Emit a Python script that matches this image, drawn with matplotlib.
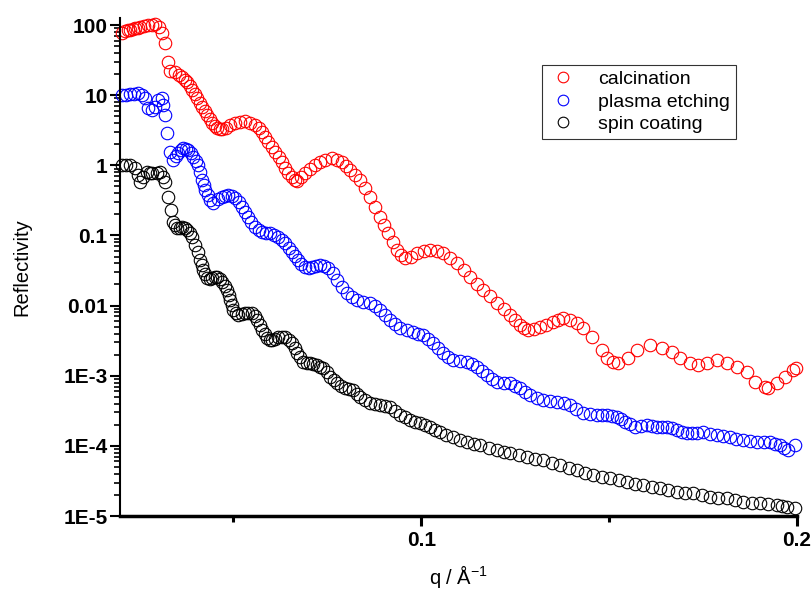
import matplotlib
matplotlib.use('Agg')
import matplotlib.pyplot as plt
import numpy as np
from matplotlib.ticker import FixedLocator, FixedFormatter, LogLocator, MultipleLocator

plt.rcParams['font.family'] = ['Liberation Sans', 'DejaVu Sans']
plt.rcParams['mathtext.default'] = 'regular'

# calcination (red)
q_calc = [0.0204, 0.0212, 0.0218, 0.0225, 0.0232, 0.0238, 0.0245, 0.0252, 0.0262, 0.0273,
          0.0282, 0.0292, 0.0302, 0.0310, 0.0318, 0.0326, 0.0332, 0.0345, 0.0354, 0.0364,
          0.0370, 0.0377, 0.0383, 0.0390, 0.0397, 0.0403, 0.0410, 0.0417, 0.0423, 0.0430,
          0.0437, 0.0443, 0.0450, 0.0457, 0.0463, 0.0470, 0.0481, 0.0491, 0.0504, 0.0518,
          0.0531, 0.0544, 0.0558, 0.0567, 0.0576, 0.0584, 0.0592, 0.0602, 0.0611, 0.0620,
          0.0630, 0.0638, 0.0646, 0.0655, 0.0664, 0.0670, 0.0680, 0.0691, 0.0704, 0.0717,
          0.0731, 0.0744, 0.0763, 0.0776, 0.0789, 0.0800, 0.0810, 0.0824, 0.0837, 0.0850,
          0.0864, 0.0877, 0.0890, 0.0901, 0.0912, 0.0924, 0.0936, 0.0946, 0.0957, 0.0973,
          0.0989, 0.1006, 0.1023, 0.1041, 0.1058, 0.1077, 0.1095, 0.1113, 0.1130, 0.1147,
          0.1164, 0.1183, 0.1202, 0.1219, 0.1236, 0.1250, 0.1263, 0.1274, 0.1284, 0.1300,
          0.1316, 0.1333, 0.1351, 0.1364, 0.1377, 0.1396, 0.1415, 0.1431, 0.1455, 0.1481,
          0.1494, 0.1510, 0.1524, 0.1550, 0.1574, 0.1609, 0.1641, 0.1667, 0.1689, 0.1715,
          0.1737, 0.1760, 0.1787, 0.1814, 0.1840, 0.1867, 0.1888, 0.1915, 0.1923, 0.1947,
          0.1968, 0.1990, 0.1997]
r_calc = [77, 82, 84.9, 86, 87.7, 91, 92.1, 94, 96.8, 100,
          101.6, 103, 94, 77, 55, 30, 22, 21.4, 19.7, 18.2,
          16.7, 15.4, 13.5, 11.8, 10.4, 9.1, 7.85, 6.8, 5.94, 5.2,
          4.57, 4.0, 3.63, 3.4, 3.29, 3.3, 3.46, 3.75, 4.01, 4.14,
          4.28, 4.07, 3.75, 3.40, 2.98, 2.53, 2.15, 1.82, 1.55, 1.31,
          1.11, 0.929, 0.776, 0.681, 0.617, 0.597, 0.681, 0.776, 0.885, 1.01,
          1.11, 1.19, 1.27, 1.21, 1.11, 0.977, 0.857, 0.727, 0.617, 0.474,
          0.353, 0.254, 0.183, 0.141, 0.108, 0.0805, 0.0619, 0.0526, 0.0476, 0.0501,
          0.0562, 0.0600, 0.0619, 0.0600, 0.0562, 0.0484, 0.0404, 0.0321, 0.0255, 0.0206,
          0.0167, 0.0135, 0.0109, 0.00893, 0.00733, 0.00622, 0.00528, 0.00479, 0.00449, 0.00463,
          0.00494, 0.00537, 0.00583, 0.00622, 0.00665, 0.00622, 0.00564, 0.00479, 0.00356, 0.00232,
          0.00179, 0.00157, 0.00152, 0.00179, 0.00232, 0.00274, 0.00248, 0.00218, 0.00179, 0.00152,
          0.00142, 0.00152, 0.00168, 0.00152, 0.00133, 0.00113, 0.00081, 0.00069, 0.00067, 0.00079,
          0.00096, 0.00121, 0.00129]

# plasma etching (blue)
q_plasma = [0.0204, 0.0214, 0.0225, 0.0236, 0.0246, 0.0256, 0.0265, 0.0273, 0.0284, 0.0292,
            0.0300, 0.0310, 0.0313, 0.0318, 0.0324, 0.0332, 0.0339, 0.0346, 0.0353, 0.0360,
            0.0366, 0.0373, 0.0379, 0.0386, 0.0393, 0.0399, 0.0406, 0.0411, 0.0417, 0.0421,
            0.0425, 0.0431, 0.0438, 0.0446, 0.0458, 0.0470, 0.0478, 0.0486, 0.0495, 0.0505,
            0.0514, 0.0523, 0.0531, 0.0539, 0.0548, 0.0558, 0.0567, 0.0576, 0.0587, 0.0598,
            0.0608, 0.0619, 0.0628, 0.0638, 0.0647, 0.0656, 0.0664, 0.0672, 0.0681, 0.0691,
            0.0700, 0.0709, 0.0720, 0.0731, 0.0741, 0.0752, 0.0764, 0.0776, 0.0789, 0.0803,
            0.0816, 0.0829, 0.0846, 0.0864, 0.0877, 0.0890, 0.0904, 0.0917, 0.0930, 0.0944,
            0.0961, 0.0978, 0.0991, 0.1005, 0.1018, 0.1031, 0.1045, 0.1058, 0.1071, 0.1085,
            0.1103, 0.1122, 0.1135, 0.1149, 0.1162, 0.1175, 0.1188, 0.1202, 0.1219, 0.1236,
            0.1250, 0.1263, 0.1276, 0.1289, 0.1307, 0.1324, 0.1343, 0.1361, 0.1379, 0.1396,
            0.1413, 0.1430, 0.1449, 0.1468, 0.1481, 0.1494, 0.1508, 0.1521, 0.1532, 0.1542,
            0.1556, 0.1569, 0.1585, 0.1601, 0.1614, 0.1627, 0.1641, 0.1654, 0.1667, 0.1681,
            0.1694, 0.1707, 0.1720, 0.1734, 0.1750, 0.1768, 0.1787, 0.1804, 0.1822, 0.1839,
            0.1856, 0.1875, 0.1894, 0.1911, 0.1928, 0.1941, 0.1955, 0.1965, 0.1976, 0.1995]
r_plasma = [10.0, 10.2, 10.4, 10.5, 10.7, 10.0, 9.1, 6.6, 6.1, 6.8,
            8.5, 9.1, 7.2, 5.2, 2.88, 1.55, 1.19, 1.36, 1.50, 1.65,
            1.76, 1.73, 1.65, 1.50, 1.31, 1.15, 1.01, 0.802, 0.617, 0.524,
            0.444, 0.377, 0.320, 0.290, 0.330, 0.353, 0.365, 0.377, 0.365, 0.341,
            0.299, 0.254, 0.216, 0.183, 0.155, 0.132, 0.119, 0.112, 0.110, 0.108,
            0.101, 0.0949, 0.0861, 0.0780, 0.0673, 0.0581, 0.0509, 0.0447, 0.0398, 0.0355,
            0.0349, 0.0355, 0.0367, 0.0379, 0.0367, 0.0343, 0.0291, 0.0231, 0.0184, 0.0151,
            0.0132, 0.0120, 0.0114, 0.0109, 0.00986, 0.00865, 0.00733, 0.00623, 0.00546, 0.00479,
            0.00448, 0.00420, 0.00400, 0.00380, 0.00333, 0.00292, 0.00248, 0.00211, 0.00185, 0.00168,
            0.00162, 0.00157, 0.00145, 0.00133, 0.00117, 0.00102, 0.000912, 0.00081, 0.000800, 0.00079,
            0.000725, 0.00067, 0.000595, 0.00053, 0.000489, 0.00045, 0.000436, 0.00042, 0.000402, 0.00038,
            0.000335, 0.000294, 0.000284, 0.000275, 0.000275, 0.000275, 0.000266, 0.000258, 0.000238, 0.000219,
            0.000202, 0.000186, 0.000192, 0.000198, 0.000192, 0.000186, 0.000186, 0.000186, 0.000177, 0.000168,
            0.000160, 0.000152, 0.000152, 0.000152, 0.000157, 0.000147, 0.000143, 0.000138, 0.000134, 0.000127,
            0.000121, 0.000117, 0.000113, 0.000113, 0.000113, 0.000108, 0.000103, 0.0000946, 0.0000873, 0.000103]

# spin coating (black)
q_spin = [0.0204, 0.0214, 0.0225, 0.0238, 0.0245, 0.0252, 0.0260, 0.0270, 0.0277, 0.0284,
          0.0297, 0.0305, 0.0312, 0.0318, 0.0326, 0.0334, 0.0339, 0.0345, 0.0350, 0.0357,
          0.0363, 0.0370, 0.0377, 0.0383, 0.0390, 0.0398, 0.0405, 0.0411, 0.0415, 0.0419,
          0.0425, 0.0430, 0.0437, 0.0443, 0.0450, 0.0457, 0.0463, 0.0470, 0.0477, 0.0483,
          0.0487, 0.0491, 0.0495, 0.0499, 0.0506, 0.0512, 0.0522, 0.0531, 0.0540, 0.0550,
          0.0556, 0.0563, 0.0570, 0.0576, 0.0583, 0.0590, 0.0596, 0.0603, 0.0611, 0.0619,
          0.0628, 0.0638, 0.0647, 0.0656, 0.0663, 0.0670, 0.0677, 0.0685, 0.0695, 0.0704,
          0.0713, 0.0723, 0.0731, 0.0739, 0.0748, 0.0757, 0.0767, 0.0776, 0.0787, 0.0797,
          0.0808, 0.0818, 0.0828, 0.0837, 0.0850, 0.0864, 0.0877, 0.0890, 0.0904, 0.0917,
          0.0930, 0.0944, 0.0957, 0.0970, 0.0984, 0.0997, 0.1010, 0.1023, 0.1037, 0.1050,
          0.1067, 0.1085, 0.1103, 0.1122, 0.1139, 0.1156, 0.1179, 0.1202, 0.1219, 0.1236,
          0.1259, 0.1282, 0.1303, 0.1325, 0.1347, 0.1369, 0.1392, 0.1415, 0.1436, 0.1457,
          0.1480, 0.1502, 0.1525, 0.1548, 0.1569, 0.1590, 0.1613, 0.1636, 0.1658, 0.1681,
          0.1702, 0.1723, 0.1746, 0.1769, 0.1791, 0.1814, 0.1835, 0.1856, 0.1879, 0.1902,
          0.1924, 0.1947, 0.1960, 0.1973, 0.1995]
r_spin = [1.01, 1.01, 1.01, 0.914, 0.727, 0.578, 0.681, 0.802, 0.789, 0.776,
          0.776, 0.802, 0.681, 0.578, 0.353, 0.230, 0.155, 0.141, 0.128, 0.128,
          0.132, 0.128, 0.119, 0.108, 0.0949, 0.0730, 0.0581, 0.0447, 0.0379, 0.0322,
          0.0282, 0.0247, 0.0243, 0.0247, 0.0255, 0.0255, 0.0239, 0.0217, 0.0193, 0.0167,
          0.0142, 0.0120, 0.0102, 0.00865, 0.00783, 0.00733, 0.00759, 0.00783, 0.00796, 0.00783,
          0.00710, 0.00623, 0.00528, 0.00449, 0.00393, 0.00345, 0.00328, 0.00323, 0.00339, 0.00356,
          0.00362, 0.00356, 0.00328, 0.00292, 0.00248, 0.00211, 0.00182, 0.00157, 0.00154, 0.00152,
          0.00147, 0.00142, 0.00135, 0.00129, 0.00113, 0.00096, 0.000869, 0.00079, 0.000725, 0.00067,
          0.000646, 0.000625, 0.000557, 0.000497, 0.000451, 0.000408, 0.000394, 0.000382, 0.000370, 0.000358,
          0.000314, 0.000275, 0.000254, 0.000233, 0.000222, 0.000212, 0.000198, 0.000186, 0.000171, 0.000157,
          0.000145, 0.000134, 0.000123, 0.000113, 0.000108, 0.000103, 0.0000946, 0.0000873, 0.0000830, 0.0000791,
          0.0000740, 0.0000693, 0.0000659, 0.0000628, 0.0000578, 0.0000533, 0.0000491, 0.0000453, 0.0000416, 0.0000384,
          0.0000365, 0.0000348, 0.0000325, 0.0000305, 0.0000290, 0.0000277, 0.0000262, 0.0000251, 0.0000234, 0.0000220,
          0.0000216, 0.0000213, 0.0000199, 0.0000187, 0.0000183, 0.0000180, 0.0000168, 0.0000158, 0.0000155, 0.0000153,
          0.0000148, 0.0000144, 0.0000138, 0.0000134, 0.0000130]

ytick_vals = [1e-5, 1e-4, 1e-3, 1e-2, 1e-1, 1, 10, 100]
ytick_labels = ['1E-5', '1E-4', '1E-3', '0.01', '0.1', '1', '10', '100']

fig = plt.figure(figsize=(8.12, 5.91), dpi=100)
ax = fig.add_axes([0.1478, 0.1269, 0.8337, 0.8426])

ms = 9
ax.plot(q_calc, r_calc, 'o', mfc='none', mec='#ff0000', mew=0.8, ms=ms, label='calcination', clip_on=False)
ax.plot(q_plasma, r_plasma, 'o', mfc='none', mec='#0000ff', mew=0.8, ms=ms, label='plasma etching', clip_on=False)
ax.plot(q_spin, r_spin, 'o', mfc='none', mec='#000000', mew=0.8, ms=ms, label='spin coating', clip_on=False)

ax.set_yscale('log')
ax.set_xlim(0.0198, 0.2)
ax.set_ylim(1e-5, 126)

ax.yaxis.set_major_locator(FixedLocator(ytick_vals))
ax.yaxis.set_major_formatter(FixedFormatter(ytick_labels))
ax.yaxis.set_minor_locator(LogLocator(base=10, subs=np.arange(2, 10), numticks=20))
ax.yaxis.set_minor_formatter(FixedFormatter([]))

ax.xaxis.set_major_locator(MultipleLocator(0.1))
ax.xaxis.set_minor_locator(MultipleLocator(0.05))
ax.xaxis.set_major_formatter(plt.FuncFormatter(lambda v, p: '%.1f' % v))

for s in ['top', 'right']:
    ax.spines[s].set_visible(False)
ax.spines['left'].set_linewidth(1.5)
ax.spines['bottom'].set_linewidth(2.5)

ax.tick_params(axis='y', which='major', direction='out', length=7, width=1.5, pad=2)
ax.tick_params(axis='y', which='minor', direction='out', length=4, width=1.2)
ax.tick_params(axis='x', which='major', direction='out', length=7, width=2.2, pad=4)
ax.tick_params(axis='x', which='minor', direction='out', length=4, width=2.2)
for lab in ax.get_xticklabels() + ax.get_yticklabels():
    lab.set_fontweight('bold')
    lab.set_fontsize(15)

ax.set_ylabel('Reflectivity', fontsize=14.5, labelpad=23)
ax.set_xlabel('q / Å$^{-1}$', fontsize=14.5, labelpad=9)

leg = ax.legend(loc='upper left', bbox_to_anchor=(0.623, 0.906), fontsize=14, frameon=True,
                fancybox=False, edgecolor='black', handletextpad=1.0, labelspacing=0.25,
                borderpad=0.3, borderaxespad=0, handlelength=1.6, markerscale=0.85)
leg.get_frame().set_linewidth(0.8)

fig.savefig('out.png', dpi=100)
